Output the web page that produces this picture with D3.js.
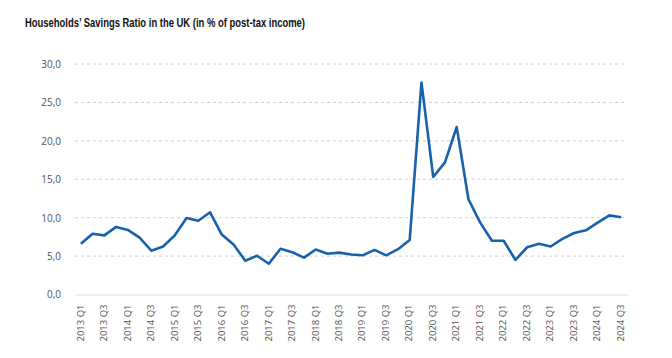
<!DOCTYPE html>
<html>
<head>
<meta charset="utf-8">
<script src="https://cdn.jsdelivr.net/npm/d3@7/dist/d3.min.js"></script>
<style>
  html, body { margin: 0; padding: 0; background: #fff; }
  svg { display: block; }
</style>
</head>
<body>
<svg id="chart" width="672" height="358"></svg>
<script>
const title = "Households’ Savings Ratio in the UK (in % of post-tax income)";
const years = [2013, 2014, 2015, 2016, 2017, 2018, 2019, 2020, 2021, 2022, 2023, 2024];
const quarters = ["Q1", "Q2", "Q3", "Q4"];
const categories = years.flatMap(y => quarters.map(q => `${y} ${q}`)).slice(0, 47);
const savingsRatio = [
  6.6, 7.9, 7.7, 8.8,
  8.4, 7.4, 5.7, 6.25,
  7.7, 9.95, 9.6, 10.7,
  7.8, 6.5, 4.4, 5.05,
  4.0, 5.95, 5.5, 4.8,
  5.85, 5.3, 5.45, 5.2,
  5.1, 5.8, 5.1, 5.9,
  7.1, 27.6, 15.3, 17.2,
  21.8, 12.4, 9.35, 7.0,
  7.0, 4.5, 6.15, 6.6,
  6.25, 7.25, 8.0, 8.35,
  9.35, 10.3, 10.05
];
const yTicks = [0, 5, 10, 15, 20, 25, 30];

const svg = d3.select("#chart");
const x = d3.scaleBand().domain(categories).range([75, 627]).padding(0);
const y = d3.scaleLinear().domain([0, 30]).range([294.5, 64]);

// title
svg.append("text")
  .attr("x", 25).attr("y", 27)
  .attr("font-family", "'Liberation Sans Narrow', 'Arial Narrow', 'Liberation Sans', sans-serif")
  .attr("font-weight", "bold")
  .attr("font-size", 12.5)
  .attr("fill", "#111")
  .attr("textLength", 280)
  .attr("lengthAdjust", "spacingAndGlyphs")
  .text(title);

// gridlines
const yAxis = d3.axisLeft(y).tickValues(yTicks)
  .tickFormat(d => d3.format(".1f")(d).replace(".", ","))
  .tickSize(0).tickPadding(0);
const gy = svg.append("g").attr("transform", "translate(61,0)").call(yAxis);
gy.select(".domain").remove();
gy.selectAll("text")
  .attr("font-family", "'Open Sans', sans-serif")
  .attr("font-size", 10)
  .attr("fill", "#555")
  .attr("dy", "0.34em");

svg.append("g").selectAll("line")
  .data(yTicks.filter(d => d > 0))
  .join("line")
  .attr("x1", 75).attr("x2", 627)
  .attr("y1", d => y(d)).attr("y2", d => y(d))
  .attr("stroke", "#d0d0d0")
  .attr("stroke-width", 1)
  .attr("stroke-dasharray", "3,3");

// x axis
const xAxis = d3.axisBottom(x)
  .tickValues(categories.filter((d, i) => i % 2 === 0))
  .tickSize(0).tickPadding(0);
const gx = svg.append("g").attr("transform", `translate(0,${y(0)})`).call(xAxis);
gx.select(".domain").attr("stroke", "#dcdcdc").attr("stroke-width", 1.2);
gx.selectAll("text")
  .attr("font-family", "'Open Sans', sans-serif")
  .attr("font-size", 9.5)
  .attr("fill", "#555")
  .attr("text-anchor", "end")
  .attr("transform", "rotate(-90)")
  .attr("x", -10)
  .attr("y", -0.5)
  .attr("dy", "0.34em");

// line
const line = d3.line()
  .x((d, i) => x(categories[i]) + x.bandwidth() / 2)
  .y(d => y(d));
svg.append("path")
  .datum(savingsRatio)
  .attr("d", line)
  .attr("fill", "none")
  .attr("stroke", "#1862ad")
  .attr("stroke-width", 2.6)
  .attr("stroke-linejoin", "round");
</script>
</body>
</html>
